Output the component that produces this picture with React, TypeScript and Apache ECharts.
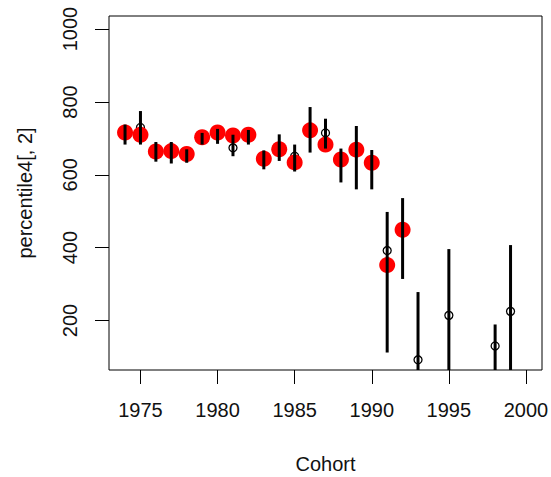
import React, { useEffect, useRef } from "react";
import * as echarts from "echarts";

const years = [1974, 1975, 1976, 1977, 1978, 1979, 1980, 1981, 1982, 1983, 1984, 1985, 1986, 1987, 1988, 1989, 1990, 1991, 1992, 1993, 1995, 1998, 1999];
const redYears = [1974, 1975, 1976, 1977, 1978, 1979, 1980, 1981, 1982, 1983, 1984, 1985, 1986, 1987, 1988, 1989, 1990, 1991, 1992];
const redValues = [716, 710, 664, 665, 657, 703, 716, 708, 710, 644, 670, 634, 722, 683, 642, 669, 633, 352, 449];
const medianValues = [716, 730, 664, 665, 657, 703, 716, 674, 710, 644, 670, 651, 722, 715, 642, 669, 633, 392, 449, 92, 214, 130, 225];
const lowerValues = [683, 683, 636, 631, 633, 683, 685, 651, 683, 615, 638, 609, 661, 672, 579, 560, 560, 112, 314, 0, 0, 0, 0];
const upperValues = [738, 775, 690, 690, 670, 715, 726, 710, 723, 667, 711, 683, 786, 754, 672, 734, 668, 498, 536, 278, 396, 189, 407];
const xTicks = [1975, 1980, 1985, 1990, 1995, 2000];
const yTicks = [200, 400, 600, 800, 1000];

export default function App() {
  const ref = useRef<HTMLDivElement>(null);
  useEffect(() => {
    if (!ref.current) return;
    const chart = echarts.init(ref.current, null, { renderer: "svg" });
    const font = "Liberation Sans, Arial, sans-serif";
    const textColor = "#111";
    chart.setOption({
      animation: false,
      backgroundColor: "#fff",
      grid: {
        left: 109,
        right: 9,
        top: 16,
        bottom: 107,
        show: true,
        borderColor: "#000",
        borderWidth: 1,
        backgroundColor: "transparent",
        containLabel: false,
        outerBoundsMode: "none",
      },
      xAxis: {
        type: "value",
        min: 1972.96,
        max: 2001.04,
        name: "Cohort",
        nameLocation: "middle",
        nameGap: 84,
        nameTextStyle: { fontFamily: font, fontSize: 20, color: textColor },
        axisLine: { show: false },
        splitLine: { show: false },
        axisTick: { show: true, length: 14, lineStyle: { color: "#000", width: 1 }, customValues: xTicks },
        axisLabel: { show: true, margin: 30, fontFamily: font, fontSize: 20, color: textColor, customValues: xTicks, formatter: (v: number) => String(v) },
      },
      yAxis: {
        type: "value",
        min: 64,
        max: 1036,
        name: "percentile4[, 2]",
        nameLocation: "middle",
        nameRotate: 90,
        nameGap: 74,
        nameTextStyle: { fontFamily: font, fontSize: 20, color: textColor },
        axisLine: { show: false },
        splitLine: { show: false },
        axisTick: { show: true, length: 14, lineStyle: { color: "#000", width: 1 }, customValues: yTicks },
        axisLabel: { show: true, rotate: 90, margin: 29, fontFamily: font, fontSize: 20, color: textColor, customValues: yTicks, formatter: (v: number) => String(v) },
      },
      series: [
        {
          type: "scatter",
          data: years.map((y, i) => [y, medianValues[i]]),
          symbol: "circle",
          symbolSize: 8,
          itemStyle: { color: "transparent", borderColor: "#000", borderWidth: 1.3, opacity: 1 },
          z: 2,
        },
        {
          type: "scatter",
          data: redYears.map((y, i) => [y, redValues[i]]),
          symbol: "circle",
          symbolSize: 16,
          itemStyle: { color: "#ff0000", opacity: 1 },
          z: 3,
        },
        {
          type: "custom",
          clip: true,
          data: years.map((y, i) => [y, lowerValues[i], upperValues[i]]),
          renderItem: (params: any, api: any) => {
            const x = api.value(0);
            const p1 = api.coord([x, api.value(1)]);
            const p2 = api.coord([x, api.value(2)]);
            return {
              type: "line",
              shape: { x1: p1[0], y1: p1[1], x2: p2[0], y2: p2[1] },
              style: { stroke: "#000", lineWidth: 3 },
            };
          },
          z: 4,
        },
      ],
    });
    return () => chart.dispose();
  }, []);
  return <div ref={ref} style={{ width: 551, height: 477, position: "absolute", left: 0, top: 0 }} />;
}
